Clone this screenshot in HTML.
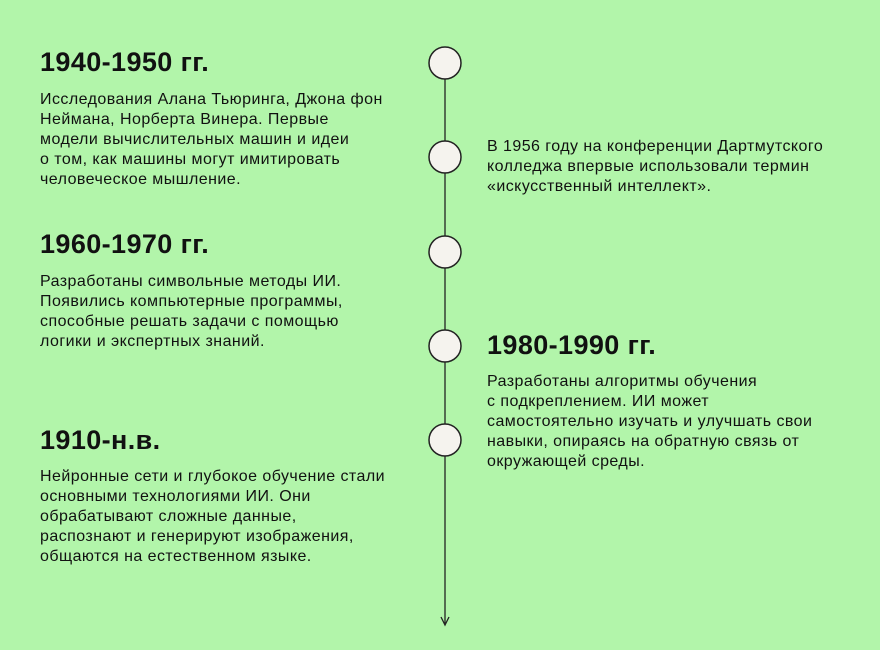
<!DOCTYPE html>
<html><head><meta charset="utf-8"><style>
body{margin:0;width:880px;height:650px;background:#b2f5aa;font-family:"Liberation Sans",sans-serif;color:#111;position:relative;overflow:hidden}
.h{position:absolute;font-size:27px;font-weight:bold;line-height:30px;white-space:nowrap;letter-spacing:0.4px}
.t{position:absolute;font-size:16px;line-height:20px;white-space:nowrap;letter-spacing:0.45px}
</style></head><body>
<svg width="880" height="650" style="position:absolute;left:0;top:0">
<line x1="445" y1="63" x2="445" y2="624" stroke="#222" stroke-width="1.3"/>
<path d="M441 617 L445 625 L449 617" fill="none" stroke="#222" stroke-width="1.3"/>
<g fill="#f5f3ee" stroke="#222" stroke-width="1.5">
<circle cx="445" cy="63" r="16"/><circle cx="445" cy="157" r="16"/><circle cx="445" cy="252" r="16"/><circle cx="445" cy="346" r="16"/><circle cx="445" cy="440" r="16"/>
</g></svg>
<div class="h" style="left:40px;top:47px">1940-1950 гг.</div>
<div class="t" style="left:40px;top:90px">Исследования Алана Тьюринга, Джона фон<br>Неймана, Норберта Винера. Первые<br>модели вычислительных машин и идеи<br>о том, как машины могут имитировать<br>человеческое мышление.</div>
<div class="t" style="left:487px;top:137px">В 1956 году на конференции Дартмутского<br>колледжа впервые использовали термин<br>«искусственный интеллект».</div>
<div class="h" style="left:40px;top:229px">1960-1970 гг.</div>
<div class="t" style="left:40px;top:272px">Разработаны символьные методы ИИ.<br>Появились компьютерные программы,<br>способные решать задачи с помощью<br>логики и экспертных знаний.</div>
<div class="h" style="left:487px;top:330px">1980-1990 гг.</div>
<div class="t" style="left:487px;top:372px">Разработаны алгоритмы обучения<br>с подкреплением. ИИ может<br>самостоятельно изучать и улучшать свои<br>навыки, опираясь на обратную связь от<br>окружающей среды.</div>
<div class="h" style="left:40px;top:425px">1910-н.в.</div>
<div class="t" style="left:40px;top:467px">Нейронные сети и глубокое обучение стали<br>основными технологиями ИИ. Они<br>обрабатывают сложные данные,<br>распознают и генерируют изображения,<br>общаются на естественном языке.</div>
</body></html>
